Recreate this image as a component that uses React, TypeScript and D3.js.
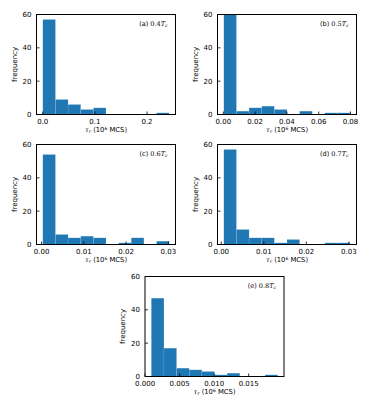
import React, { useEffect, useRef } from "react";
import * as d3 from "d3";

// histogram counts (10 bins each)
const countsA = [57, 9, 6, 3, 4, 0, 0, 0, 0, 1];
const countsB = [62, 2, 4, 5, 3, 0, 2, 0, 1, 1];
const countsC = [54, 6, 4, 5, 4, 0, 1, 4, 0, 2];
const countsD = [57, 9, 4, 4, 1, 3, 0, 0, 1, 1];
const countsE = [47, 17, 5, 4, 3, 1, 2, 0, 0, 1];

// data range (min, max) of tau_r for each panel
const rangeA = [0.0002, 0.2425];
const rangeB = [0.0003, 0.0798];
const rangeC = [0.0003, 0.0302];
const rangeD = [0.0006, 0.0303];
const rangeE = [0.0009, 0.0192];

const ticksA = ["0.0", "0.1", "0.2"];
const ticksB = ["0.00", "0.02", "0.04", "0.06", "0.08"];
const ticksC = ["0.00", "0.01", "0.02", "0.03"];
const ticksD = ["0.00", "0.01", "0.02", "0.03"];
const ticksE = ["0.000", "0.005", "0.010", "0.015"];

const yTicks = [0, 20, 40, 60];
const tags = ["(a)", "(b)", "(c)", "(d)", "(e)"];
const temps = ["0.4", "0.5", "0.6", "0.7", "0.8"];

const panels = [
  { counts: countsA, range: rangeA, ticks: ticksA },
  { counts: countsB, range: rangeB, ticks: ticksB },
  { counts: countsC, range: rangeC, ticks: ticksC },
  { counts: countsD, range: rangeD, ticks: ticksD },
  { counts: countsE, range: rangeE, ticks: ticksE },
];

// axes boxes in px
const boxes = [
  { x: 36.5, y: 14.5 },
  { x: 217.5, y: 14.5 },
  { x: 36.5, y: 144.5 },
  { x: 217.5, y: 144.5 },
  { x: 145, y: 276.5 },
];
const W = 139;
const H = 100;

const sans = "'DejaVu Sans', sans-serif";
const serif = "'DejaVu Serif', serif";

export default function App() {
  const ref = useRef<SVGSVGElement>(null);

  useEffect(() => {
    const svg = d3.select(ref.current);
    svg.selectAll("*").remove();

    panels.forEach((p, i) => {
      const b = boxes[i];
      const [lo, hi] = p.range;
      const pad = (hi - lo) * 0.05;
      const x = d3.scaleLinear().domain([lo - pad, hi + pad]).range([0, W]);
      const y = d3.scaleLinear().domain([0, 60]).range([H, 0]).clamp(true);
      const step = (hi - lo) / p.counts.length;

      const g = svg.append("g").attr("transform", `translate(${b.x},${b.y})`);

      g.selectAll("rect.bar")
        .data(p.counts)
        .join("rect")
        .attr("class", "bar")
        .attr("x", (d, j) => x(lo + j * step))
        .attr("width", (d, j) => x(lo + (j + 1) * step) - x(lo + j * step))
        .attr("y", d => y(d))
        .attr("height", d => H - y(d))
        .attr("fill", "#1f77b4")
        .attr("stroke", "rgba(255,255,255,0.25)")
        .attr("stroke-width", 0.4);

      // y ticks
      yTicks.forEach(t => {
        g.append("line")
          .attr("x1", 0).attr("x2", 3)
          .attr("y1", y(t)).attr("y2", y(t))
          .attr("stroke", "#000").attr("stroke-width", 0.8);
        g.append("text")
          .attr("x", -5).attr("y", y(t) + 2.5)
          .attr("text-anchor", "end")
          .attr("font-family", sans).attr("font-size", 7)
          .text(t);
      });

      // x ticks
      p.ticks.forEach(t => {
        const v = +t;
        g.append("line")
          .attr("x1", x(v)).attr("x2", x(v))
          .attr("y1", H).attr("y2", H - 3)
          .attr("stroke", "#000").attr("stroke-width", 0.8);
        g.append("text")
          .attr("x", x(v)).attr("y", H + 9.5)
          .attr("text-anchor", "middle")
          .attr("font-family", sans).attr("font-size", 7)
          .text(t);
      });

      g.append("rect")
        .attr("width", W).attr("height", H)
        .attr("fill", "none").attr("stroke", "#000").attr("stroke-width", 1);

      // y label
      g.append("text")
        .attr("transform", `translate(-20,${H / 2}) rotate(-90)`)
        .attr("text-anchor", "middle")
        .attr("font-family", sans).attr("font-size", 7)
        .text("frequency");

      // x label
      const xl = g.append("text")
        .attr("x", W / 2).attr("y", H + 17)
        .attr("text-anchor", "middle")
        .attr("font-family", sans).attr("font-size", 6.8);
      xl.append("tspan").attr("font-family", serif).attr("font-style", "italic").text("τ");
      xl.append("tspan").attr("font-family", serif).attr("font-style", "italic")
        .attr("font-size", 4.8).attr("dy", 1.3).text("r");
      xl.append("tspan").attr("dy", -1.3).text(" (10");
      xl.append("tspan").attr("font-size", 4.5).attr("dy", -2).text("6");
      xl.append("tspan").attr("dy", 2).text(" MCS)");

      // panel tag
      const tg = g.append("text")
        .attr("x", W - 8).attr("y", 11)
        .attr("text-anchor", "end")
        .attr("font-family", sans).attr("font-size", 6.5);
      tg.append("tspan").text(tags[i] + " ");
      tg.append("tspan").attr("font-family", serif).text(temps[i]);
      tg.append("tspan").attr("font-family", serif).attr("font-style", "italic").text("T");
      tg.append("tspan").attr("font-family", serif).attr("font-style", "italic")
        .attr("font-size", 4.5).attr("dy", 1.3).text("c");
    });
  }, []);

  return (
    <svg
      ref={ref}
      width={374}
      height={408}
      style={{ position: "absolute", left: 0, top: 0, background: "#fff" }}
    />
  );
}
